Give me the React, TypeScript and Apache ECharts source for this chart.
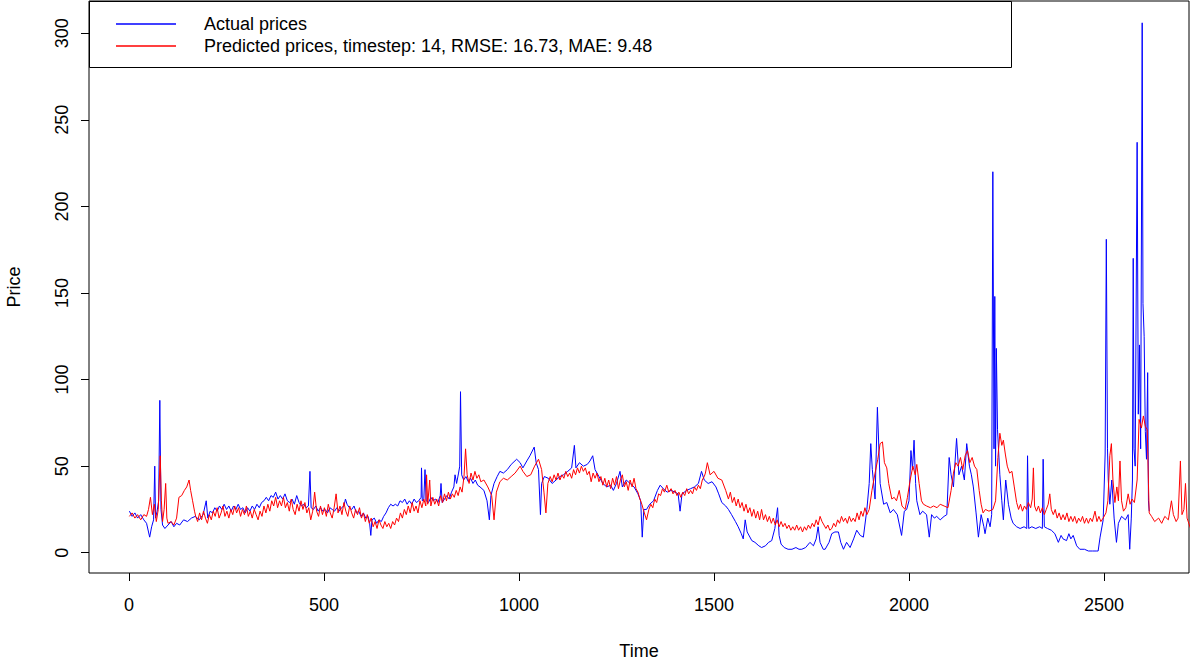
import React, { useEffect, useRef } from "react";
import * as echarts from "echarts";

// [time, price] pairs
const actualPrices: [number, number][] = [
  [1, 24], [8, 21], [15, 23], [22, 20], [30, 22], [38, 19], [45, 17], [53, 9], [58, 15], [63, 19], [66, 50], [68, 20], [72, 24], [76, 30], [79, 88], [82, 25], [86, 16], [92, 14], [100, 16], [108, 18], [115, 15], [122, 17], [130, 16], [140, 19], [150, 18], [160, 20], [170, 21], [180, 19], [190, 22], [198, 30],
  [202, 20], [208, 24], [214, 23], [220, 26], [226, 24], [232, 27], [238, 25], [244, 28], [250, 25], [256, 27], [262, 24], [268, 27], [274, 25], [280, 28], [286, 25], [292, 26], [298, 23], [304, 26], [310, 24], [316, 27], [322, 25], [328, 28], [334, 26], [340, 29], [346, 30], [352, 32], [358, 30], [364, 33], [370, 32], [376, 35], [382, 31], [388, 33], [394, 31], [400, 34], [406, 30], [412, 29], [418, 31], [424, 28], [430, 33], [436, 29], [442, 27], [448, 28], [454, 26], [460, 27], [464, 47], [467, 26], [473, 25], [479, 27], [485, 24], [491, 26], [497, 24], [503, 25], [509, 23], [515, 26], [521, 25], [527, 24], [533, 26], [539, 24], [545, 26], [551, 27], [555, 31], [559, 28], [565, 26], [571, 25], [577, 27], [583, 23], [589, 24], [595, 21], [601, 23], [607, 20], [613, 21], [617, 17], [620, 10], [623, 19], [629, 20], [635, 17], [641, 19], [647, 18], [653, 21], [659, 23], [665, 26], [671, 28], [677, 27], [683, 28], [689, 27], [695, 30], [701, 29], [707, 31], [713, 28], [719, 30], [725, 28], [731, 31], [737, 29], [743, 30], [749, 32], [750, 49], [752, 30], [756, 31], [759, 48], [762, 30], [768, 29], [774, 32], [780, 30], [786, 31], [792, 29], [798, 33], [800, 40], [803, 29], [809, 31], [815, 33], [821, 31], [827, 35], [833, 38], [836, 45], [840, 40], [845, 46], [848, 50], [850, 93], [853, 45], [858, 42], [864, 44], [870, 41], [876, 43], [882, 40], [888, 42], [894, 39], [900, 38],
  [910, 36], [918, 30], [924, 19], [928, 33], [936, 40], [944, 44], [951, 47], [960, 46], [970, 48], [980, 51], [994, 54], [1003, 52], [1010, 49], [1020, 53], [1028, 56], [1039, 61], [1044, 52], [1050, 48], [1055, 22], [1058, 40], [1065, 44], [1075, 43], [1085, 40], [1095, 42], [1105, 44], [1114, 45], [1125, 47], [1135, 49], [1142, 62], [1146, 49], [1155, 52], [1165, 50], [1175, 51], [1182, 53], [1189, 56], [1195, 48], [1205, 44], [1215, 40], [1225, 38], [1235, 39], [1242, 36], [1250, 40], [1259, 47], [1265, 38], [1275, 42], [1285, 40], [1295, 38], [1305, 34], [1312, 30], [1316, 9], [1320, 25], [1327, 25], [1335, 28], [1345, 30], [1355, 36], [1362, 39], [1370, 37], [1380, 35], [1390, 36], [1400, 35], [1408, 34], [1413, 24], [1418, 34], [1430, 36], [1440, 37], [1450, 38], [1460, 40], [1468, 47], [1475, 42], [1485, 40], [1495, 41], [1505, 38], [1512, 34], [1520, 29], [1530, 27], [1537, 25], [1545, 22], [1555, 18], [1562, 15], [1570, 11], [1575, 8], [1580, 19], [1585, 12], [1597, 7], [1605, 6], [1615, 4], [1622, 3], [1632, 4], [1640, 6], [1648, 7], [1656, 14], [1663, 26], [1667, 10], [1672, 5], [1680, 3], [1690, 2], [1700, 2], [1710, 3], [1718, 2], [1725, 2], [1735, 3], [1746, 6], [1755, 4], [1762, 8], [1767, 15], [1772, 6], [1780, 2], [1785, 2], [1795, 6], [1802, 11], [1810, 12], [1819, 12], [1825, 6], [1832, 2], [1840, 6], [1849, 3], [1858, 8], [1866, 13], [1875, 10], [1883, 9], [1892, 25], [1898, 40], [1902, 63], [1906, 48], [1913, 31], [1919, 84], [1926, 40], [1935, 28], [1943, 29], [1952, 23], [1960, 25], [1970, 22], [1981, 10], [1988, 24], [1994, 25], [2000, 30], [2005, 59], [2009, 48], [2013, 65], [2017, 40], [2020, 30], [2028, 22], [2035, 24], [2045, 22], [2052, 9], [2058, 22], [2065, 20], [2071, 21], [2080, 19], [2090, 21], [2097, 22], [2103, 55], [2108, 45], [2114, 38], [2122, 66], [2128, 45], [2135, 50], [2142, 42], [2148, 63], [2155, 50], [2160, 45], [2165, 38], [2172, 23], [2178, 9], [2185, 22], [2192, 15], [2195, 11], [2202, 20], [2208, 15], [2212, 22], [2215, 220], [2218, 60], [2220, 148], [2222, 50], [2224, 118], [2227, 71], [2233, 45], [2238, 30], [2242, 19], [2248, 42], [2255, 28], [2262, 20], [2267, 17], [2276, 15], [2285, 14], [2295, 15], [2302, 14], [2304, 56], [2307, 14], [2315, 15], [2325, 14], [2335, 15], [2342, 14], [2344, 54], [2347, 15], [2355, 14], [2365, 13], [2374, 11], [2383, 6], [2390, 10], [2395, 8], [2404, 7], [2410, 11], [2415, 8], [2421, 10], [2430, 4], [2438, 2], [2450, 2], [2460, 1], [2470, 1], [2480, 1], [2485, 1], [2490, 9], [2498, 19], [2503, 57], [2506, 181], [2509, 60], [2511, 42], [2515, 28], [2520, 42], [2526, 20], [2532, 6], [2537, 17], [2545, 21], [2555, 19], [2562, 22], [2566, 2], [2570, 20], [2573, 42], [2575, 170], [2577, 60], [2580, 50], [2585, 237], [2588, 80], [2591, 120], [2594, 60], [2598, 306], [2600, 144], [2603, 125], [2606, 70], [2609, 54], [2612, 104], [2614, 30], [2616, 24],
];

const predictedPrices: [number, number][] = [
  [1, 21], [8, 23], [15, 20], [22, 22], [30, 19], [38, 22], [45, 21], [50, 25], [55, 32], [60, 22], [65, 28], [70, 18], [75, 25], [80, 56], [83, 30], [86, 18], [90, 25], [94, 40], [97, 20], [100, 17], [108, 18], [115, 16], [122, 20], [128, 32], [135, 33], [142, 36], [148, 38], [154, 42], [158, 36], [163, 30], [168, 24],
  [171, 21], [176, 18], [181, 23], [186, 19], [191, 24], [196, 20], [201, 17], [206, 22], [211, 19], [216, 24], [221, 21], [226, 26], [231, 20], [236, 23], [241, 27], [246, 21], [251, 24], [256, 20], [261, 25], [266, 22], [271, 27], [276, 23], [281, 26], [286, 21], [291, 25], [296, 22], [301, 27], [306, 21], [311, 24], [316, 20], [321, 25], [326, 22], [331, 19], [336, 24], [341, 21], [346, 27], [351, 23], [356, 28], [361, 24], [366, 30], [371, 27], [376, 32], [381, 26], [386, 30], [391, 27], [396, 32], [401, 26], [406, 29], [411, 24], [416, 31], [421, 25], [426, 22], [431, 28], [436, 24], [441, 30], [446, 25], [451, 29], [456, 23], [461, 26], [466, 19], [471, 24], [476, 35], [481, 24], [486, 21], [491, 27], [496, 22], [501, 26], [506, 21], [511, 28], [516, 23], [521, 20], [526, 26], [531, 34], [536, 23], [541, 27], [546, 22], [551, 29], [556, 24], [561, 21], [566, 27], [571, 23], [576, 20], [581, 25], [586, 22], [591, 26], [596, 20], [601, 23], [606, 18], [611, 22], [616, 17], [621, 20], [626, 15], [631, 18], [636, 14], [641, 19], [646, 16], [651, 14], [656, 18], [661, 15], [666, 17], [671, 14], [676, 18], [681, 16], [686, 20], [691, 18], [696, 23], [701, 20], [706, 25], [711, 22], [716, 27], [721, 23], [726, 29], [731, 24], [736, 27], [741, 23], [746, 30], [751, 26], [756, 31], [761, 27], [763, 45], [766, 28], [771, 42], [774, 27], [779, 32], [784, 28], [789, 31], [794, 27], [799, 33], [804, 29], [809, 34], [814, 30], [819, 35], [824, 31], [829, 34], [834, 32], [839, 36], [844, 33], [849, 38], [854, 35], [859, 44], [863, 60], [867, 45], [872, 40], [877, 46], [882, 42], [887, 47], [892, 43], [897, 45], [902, 41],
  [910, 42], [920, 38], [930, 33], [936, 19], [942, 35], [951, 41], [960, 43], [970, 42], [980, 44], [990, 46], [1003, 50], [1010, 47], [1020, 44], [1030, 45], [1040, 50], [1050, 54], [1058, 48], [1064, 35], [1069, 23], [1074, 40],
  [1080, 44], [1085, 41], [1090, 45], [1095, 42], [1100, 46], [1105, 42], [1110, 45], [1115, 43], [1120, 47], [1125, 44], [1130, 46], [1135, 43], [1140, 48], [1145, 45], [1150, 49], [1155, 46], [1160, 50], [1165, 47], [1170, 49], [1175, 45], [1180, 47], [1185, 41], [1190, 46], [1195, 43], [1200, 46], [1205, 41], [1210, 44], [1215, 39], [1220, 43], [1225, 38], [1230, 42], [1235, 37], [1240, 43], [1245, 39], [1250, 44], [1255, 37], [1260, 42], [1265, 45], [1270, 38], [1275, 41], [1280, 36], [1285, 42], [1290, 38], [1295, 43], [1300, 37], [1305, 35], [1310, 31], [1315, 28], [1320, 24], [1327, 19], [1333, 25], [1338, 28], [1343, 26], [1348, 31], [1353, 29], [1358, 34], [1363, 33], [1368, 37], [1373, 35], [1379, 39], [1384, 35], [1390, 37], [1395, 34], [1400, 36], [1405, 33], [1410, 35], [1415, 32], [1420, 35], [1425, 33], [1430, 37], [1435, 34], [1440, 36], [1445, 34], [1450, 38], [1455, 36], [1460, 39], [1465, 37], [1470, 42], [1475, 44], [1478, 46], [1483, 52],
  [1490, 45], [1500, 47], [1510, 43], [1520, 42], [1530, 36],
  [1537, 31], [1542, 35], [1547, 29], [1552, 32], [1557, 27], [1562, 31], [1567, 26], [1572, 29], [1577, 24], [1582, 28], [1587, 23], [1592, 26], [1597, 21], [1602, 25], [1607, 20], [1612, 24], [1617, 19], [1622, 25], [1627, 19], [1632, 22], [1637, 18], [1642, 21], [1647, 17], [1652, 20], [1657, 16], [1662, 19], [1667, 15], [1672, 18], [1677, 15], [1682, 17], [1687, 14], [1692, 16], [1697, 13], [1702, 15], [1707, 13], [1712, 16], [1717, 13], [1722, 15], [1727, 12], [1732, 15], [1737, 13], [1742, 16], [1747, 14], [1752, 17], [1757, 15], [1762, 19], [1767, 16], [1772, 21], [1777, 18], [1782, 16], [1787, 14], [1792, 16], [1797, 13], [1802, 14], [1807, 17], [1812, 15], [1817, 19], [1822, 17], [1827, 21], [1832, 18], [1837, 20], [1842, 17], [1847, 21], [1852, 18], [1857, 20], [1862, 18], [1867, 23], [1872, 19], [1877, 24], [1882, 21], [1887, 26], [1892, 22], [1898, 25], [1905, 36],
  [1913, 46], [1920, 54], [1926, 63], [1932, 64], [1937, 52], [1943, 49], [1948, 40], [1956, 31], [1962, 32], [1968, 30], [1975, 36], [1982, 27], [1990, 25], [1996, 32], [2003, 42], [2010, 50], [2016, 45], [2020, 51], [2026, 40], [2032, 30], [2037, 28], [2045, 27], [2055, 26], [2063, 27], [2072, 26], [2080, 28], [2090, 27], [2100, 26], [2108, 36], [2114, 46], [2120, 52], [2126, 50], [2132, 55], [2138, 48], [2144, 56], [2150, 59], [2156, 52], [2162, 55], [2168, 50], [2174, 48], [2180, 36], [2185, 28], [2190, 23], [2196, 25], [2205, 24], [2215, 25], [2222, 30], [2228, 55], [2233, 69], [2238, 62], [2242, 65], [2247, 57], [2252, 50], [2258, 46], [2264, 47],
  [2270, 38], [2276, 29], [2281, 25], [2286, 28], [2291, 24], [2296, 27], [2301, 25], [2306, 29], [2312, 26], [2316, 31], [2319, 49], [2322, 27], [2327, 24], [2332, 27], [2337, 23], [2342, 26], [2347, 22], [2352, 25], [2357, 28], [2361, 34], [2365, 25], [2370, 22], [2375, 25], [2380, 20], [2385, 23], [2390, 19], [2395, 22], [2400, 19], [2405, 23], [2410, 18], [2415, 21], [2420, 18], [2425, 21], [2430, 17], [2435, 20], [2440, 18], [2445, 21], [2450, 17], [2455, 20], [2460, 17], [2465, 20], [2470, 18], [2477, 24], [2482, 18], [2487, 21], [2492, 18], [2498, 20], [2505, 23],
  [2510, 30], [2515, 56], [2519, 63], [2523, 42], [2528, 29], [2533, 38], [2537, 30], [2541, 53], [2545, 30], [2550, 24], [2556, 26], [2562, 34], [2567, 28], [2572, 31], [2578, 29], [2585, 42], [2590, 77], [2596, 72], [2601, 79], [2606, 73], [2611, 71], [2614, 40], [2616, 23], [2622, 21], [2630, 18], [2640, 20], [2648, 17], [2656, 21], [2665, 19], [2673, 30], [2678, 22], [2685, 18], [2690, 20], [2696, 53], [2700, 22], [2705, 25], [2709, 40], [2713, 20], [2719, 16], [2722, 14],
];

const xTicks = [0, 500, 1000, 1500, 2000, 2500];
const yTicks = [0, 50, 100, 150, 200, 250, 300];

const seriesNames = ["Actual prices", "Predicted prices, timestep: 14, RMSE: 16.73, MAE: 9.48"];

const FONT = "'Liberation Sans', Arial, Helvetica, sans-serif";
const FS = 18;

export default function App() {
  const ref = useRef<HTMLDivElement>(null);
  useEffect(() => {
    if (!ref.current) return;
    const chart = echarts.init(ref.current, null, { renderer: "svg" });
    chart.setOption({
      animation: false,
      backgroundColor: "#ffffff",
      textStyle: { fontFamily: FONT },
      grid: {
        left: 89,
        top: 1,
        width: 1100,
        height: 572,
        show: true,
        borderColor: "#000",
        borderWidth: 1,
        containLabel: false,
        outerBoundsMode: "none",
      },
      xAxis: {
        type: "value",
        min: -102.6,
        max: 2718,
        name: "Time",
        nameLocation: "middle",
        nameGap: 69,
        nameTextStyle: { fontSize: FS, color: "#000", fontFamily: FONT },
        axisLine: { show: false, onZero: false },
        axisTick: { show: true, inside: false, length: 8, lineStyle: { color: "#000" }, customValues: xTicks },
        axisLabel: { show: true, margin: 23, fontSize: FS, color: "#000", fontFamily: FONT, customValues: xTicks, formatter: (v: number) => String(v) },
        splitLine: { show: false },
      },
      yAxis: {
        type: "value",
        min: -11.7,
        max: 318.6,
        name: "Price",
        nameLocation: "middle",
        nameGap: 66,
        nameRotate: 90,
        nameTextStyle: { fontSize: FS, color: "#000", fontFamily: FONT },
        axisLine: { show: false, onZero: false },
        axisTick: { show: true, inside: false, length: 8, lineStyle: { color: "#000" }, customValues: yTicks },
        axisLabel: { show: true, margin: 18, rotate: 90, fontSize: FS, color: "#000", fontFamily: FONT, customValues: yTicks, formatter: (v: number) => String(v) },
        splitLine: { show: false },
      },
      legend: {
        left: 116,
        top: 14,
        orient: "vertical",
        padding: 0,
        itemWidth: 60,
        itemHeight: 1.5,
        itemGap: 2,
        icon: "rect",
        selectedMode: false,
        textStyle: { fontSize: FS, color: "#000", fontFamily: FONT, lineHeight: 20, padding: [0, 0, 0, 23] },
        data: seriesNames,
      },
      graphic: [
        {
          type: "rect",
          shape: { x: 89.5, y: 1.5, width: 922, height: 66 },
          style: { fill: "none", stroke: "#000", lineWidth: 1 },
          silent: true,
        },
      ],
      series: [
        {
          name: seriesNames[0],
          type: "line",
          data: actualPrices,
          showSymbol: false,
          symbol: "none",
          clip: true,
          lineStyle: { color: "#0000ff", width: 1 },
          itemStyle: { color: "#0000ff" },
        },
        {
          name: seriesNames[1],
          type: "line",
          data: predictedPrices,
          showSymbol: false,
          symbol: "none",
          clip: true,
          lineStyle: { color: "#ff0000", width: 1 },
          itemStyle: { color: "#ff0000" },
        },
      ],
    });
    return () => chart.dispose();
  }, []);
  return <div ref={ref} style={{ position: "fixed", left: 0, top: 0, width: 1192, height: 662 }} />;
}
